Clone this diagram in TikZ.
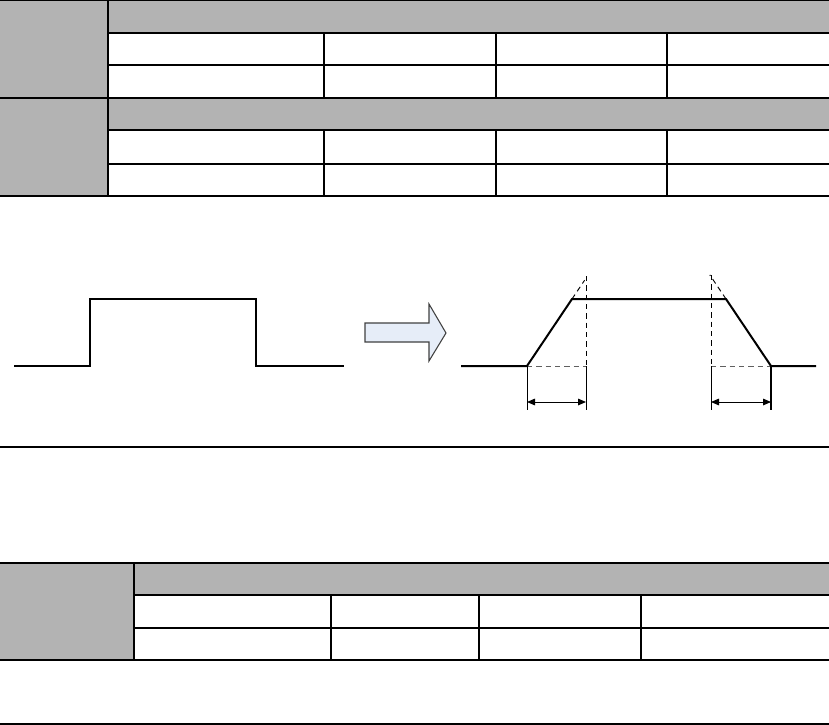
\documentclass[tikz,border=0pt]{standalone}
\usetikzlibrary{arrows.meta, calc}
\definecolor{cellgray}{RGB}{179,179,179}
\definecolor{arrowblue}{RGB}{230,237,248}
\definecolor{edgegray}{RGB}{64,64,64}
\definecolor{guidegray}{RGB}{96,96,96}

\begin{document}
\begin{tikzpicture}[x=0.75pt, y=-0.75pt,
    cell/.style={fill=cellgray, draw=none},
    thinrule/.style={line width=0.8pt},
    thickrule/.style={line width=1.6pt},
    wave/.style={line width=1.5pt, line join=miter},
    guide/.style={line width=0.7pt, dash pattern=on 4pt off 3pt},
    dim/.style={{Triangle[length=6pt,width=5pt]}-{Triangle[length=6pt,width=5pt]}, line width=0.7pt},
    blockarrow/.style={fill=arrowblue, draw=edgegray, line width=0.8pt, line join=miter}
  ]
    \useasboundingbox (0,0) rectangle (829,725);

    % upper table
    \fill[cell] (0,0) rectangle (108,196);
    \fill[cell] (108,0) rectangle (829,33);
    \fill[cell] (108,98) rectangle (829,130);
    \draw[thinrule] (0,0.5) -- (829,0.5);
    \draw[thickrule] (108,0) -- (108,196);
    \foreach \y in {33,65,130,164}
      \draw[thickrule] (108,\y) -- (829,\y);
    \draw[thickrule] (0,98) -- (829,98);
    \draw[thinrule] (0,196) -- (829,196);
    \foreach \x/\w in {324/1.6pt,496/0.9pt,667/1.6pt} {
      \draw[line width=\w] (\x,33) -- (\x,98);
      \draw[line width=\w] (\x,130) -- (\x,196);
    }

    % ideal pulse
    \coordinate (pa) at (14,366);
    \coordinate (pb) at (90,366);
    \coordinate (pc) at (90,299);
    \coordinate (pd) at (256,299);
    \coordinate (pe) at (256,366);
    \coordinate (pf) at (344,366);
    \draw[wave] (pa) -- (pb) -- (pc) -- (pd) -- (pe) -- (pf);

    % block arrow
    \draw[blockarrow] (365,323) -- (429,323) -- (429,304) -- (446,333)
      -- (429,361) -- (429,342) -- (365,342) -- cycle;

    % real pulse with rise and fall times
    \coordinate (r0) at (461,366);
    \coordinate (r1) at (527,366);
    \coordinate (r2) at (572,299);
    \coordinate (r3) at (726,299);
    \coordinate (r4) at (771,366);
    \coordinate (r5) at (816,366);
    \coordinate (ru) at (586,276);
    \coordinate (rv) at (711,275);
    \draw[wave] (r0) -- (r1) -- (r2) -- (r3) -- (r4) -- (r5);
    \draw[guide] (r2) -- ($(r1)!1.28!(r2)$);
    \draw[guide] (r3) -- ($(r4)!1.36!(r3)$);
    \draw[guide] (ru) -- (586,366);
    \draw[guide] (rv) -- (711,366);
    \draw[guide, guidegray] (r1) -- (586,366);
    \draw[guide, guidegray] (711,366) -- (r4);
    \draw[thinrule, line width=0.7pt] (r1) -- (527,410);
    \draw[thinrule, line width=0.7pt] (586,366) -- (586,410);
    \draw[thinrule, line width=0.7pt] (711,366) -- (711,410);
    \draw[line width=1.5pt] (r4) -- (771,410);
    \draw[dim] (527,402) -- (586,402);
    \draw[dim] (711,402) -- (771,402);

    \draw[thinrule] (0,447) -- (829,447);

    % lower table
    \fill[cell] (0,563) rectangle (134,660);
    \fill[cell] (134,563) rectangle (829,595);
    \draw[thickrule] (0,563) -- (829,563);
    \draw[thickrule] (134,595) -- (829,595);
    \draw[line width=2pt] (134,628) -- (829,628);
    \draw[thinrule, line width=1.2pt] (0,660) -- (829,660);
    \draw[thinrule] (134,563) -- (134,660);
    \foreach \x/\w in {331/1.6pt,479/0.8pt,641/0.8pt}
      \draw[line width=\w] (\x,595) -- (\x,660);

    \draw[thinrule] (0,724) -- (829,724);
  \end{tikzpicture}
\end{document}
